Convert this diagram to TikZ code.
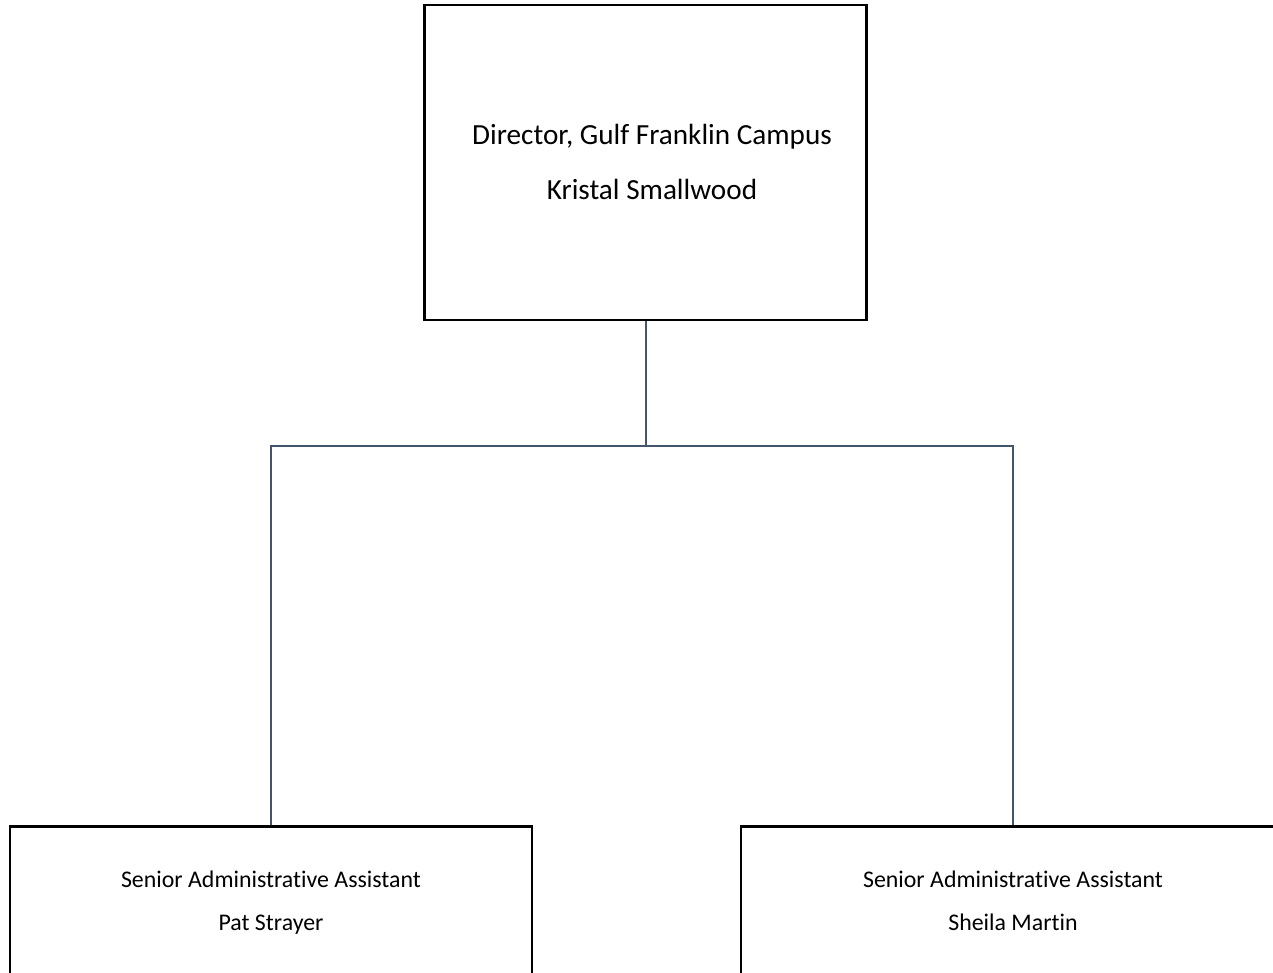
\documentclass[tikz,border=0pt]{standalone}
\usepackage{fontspec}
\setmainfont[Ligatures=NoCommon]{Carlito}
\definecolor{conn}{HTML}{44546A}
\begin{document}
\begin{tikzpicture}[x=0.75pt,y=-0.75pt,
  box/.style={draw=black,line width=1.6pt,rectangle,inner sep=0pt,fill=white},
  link/.style={draw=conn,line width=1.5pt},
  bigtxt/.style={font=\fontsize{21.9}{26}\selectfont,anchor=base,inner sep=0pt},
  smalltxt/.style={font=\fontsize{17.9}{22}\selectfont,anchor=base,inner sep=0pt}]
\useasboundingbox (0,0) rectangle (1273,973);
\clip (0,0) rectangle (1273,973);
\fill[white] (0,0) rectangle (1273,973);
% boxes
\node[box,minimum width=442*0.75pt,minimum height=315*0.75pt] (dir) at (645.5,162.5) {};
\node[box,minimum width=522*0.75pt,minimum height=163*0.75pt] (left) at (271,908) {};
\node[box,minimum width=544*0.75pt,minimum height=163*0.75pt] (right) at (1013,908) {};
% connectors
\coordinate (j) at (645.5,446);
\draw[link] (dir.south) -- (j);
\draw[link] (j) -| (left.north);
\draw[link] (j) -| (right.north);
% texts
\node[bigtxt] (d1) at (652,144.5) {Director, Gulf Franklin Campus};
\node[bigtxt] (d2) at (652,200) {Kristal Smallwood};
\node[smalltxt] (l1) at (271,887.5) {Senior Administrative Assistant};
\node[smalltxt] (l2) at (271,930.5) {Pat Strayer};
\node[smalltxt] (r1) at (1013,887.5) {Senior Administrative Assistant};
\node[smalltxt] (r2) at (1013,930.5) {Sheila Martin};
\end{tikzpicture}
\end{document}
